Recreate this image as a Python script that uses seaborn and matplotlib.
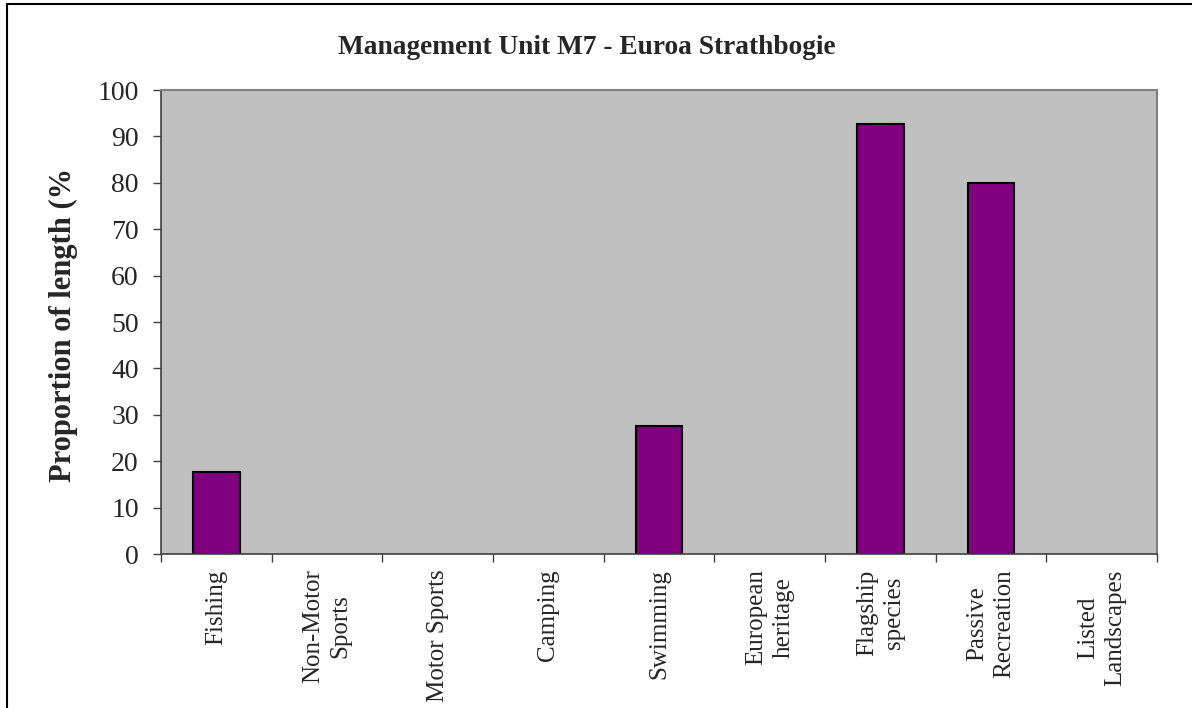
import numpy as np
import pandas as pd
import matplotlib
matplotlib.use("Agg")
import matplotlib.pyplot as plt
import seaborn as sns
from matplotlib.lines import Line2D

# ── data ────────────────────────────────────────────────────────────────────
categories = [
    "Fishing", "Non-Motor\nSports", "Motor Sports", "Camping", "Swimming",
    "European\nheritage", "Flagship\nspecies", "Passive\nRecreation",
    "Listed\nLandscapes",
]
values = [17.6, 0, 0, 0, 27.6, 0, 92.7, 80.0, 0]
yticks = list(range(0, 101, 10))

title = "Management Unit M7 - Euroa Strathbogie"
ylabel = "Proportion of length (%"

df = pd.DataFrame({"category": categories, "value": values})

sns.set_theme(style="white")
plt.rcParams["font.family"] = ["Liberation Serif", "DejaVu Serif"]

fig = plt.figure(figsize=(11.92, 7.08), dpi=100)
W, H = 1192, 708
ax = fig.add_axes([161 / W, 1 - 554 / H, (1157 - 161) / W, (554 - 90) / H])
ax.set_facecolor("#C0C0C0")

sns.barplot(data=df, x="category", y="value", color="#800080",
            saturation=1, width=0.42, edgecolor="black", linewidth=1.5, ax=ax)
# empty categories show no outline
for bar in ax.patches:
    if bar.get_height() == 0:
        bar.set_linewidth(0)

ax.set_xlim(-0.5, len(categories) - 0.5)
ax.set_ylim(0, 100)
ax.set_yticks(yticks)
ax.set_yticklabels([str(t) for t in yticks], fontsize=20)
ax.tick_params(axis="y", direction="out", length=6, width=1, color="#404040",
               pad=10, left=True)

# category labels at centres, tick marks at boundaries
ax.set_xticks(range(len(categories)))
ax.set_xticklabels(categories, rotation=90, fontsize=18, va="top",
                   ha="center", multialignment="center", linespacing=1.3)
ax.tick_params(axis="x", which="major", length=0, pad=11)
ax.set_xticks(np.arange(-0.5, len(categories), 1), minor=True)
ax.tick_params(axis="x", which="minor", direction="out", length=6, width=1,
               color="#404040", bottom=True)
ax.set_xlabel("")
ax.set_ylabel("")

for side in ["left", "bottom"]:
    ax.spines[side].set_color("#404040")
    ax.spines[side].set_linewidth(1.2)
for side in ["top", "right"]:
    ax.spines[side].set_visible(True)
    ax.spines[side].set_color("#808080")
    ax.spines[side].set_linewidth(1.5)

fig.text(587 / W, 1 - 48 / H, title, fontsize=19.7, fontweight="bold",
         ha="center", va="center")
fig.text(63 / W, 1 - 325 / H, ylabel, fontsize=22, fontweight="bold",
         rotation=90, ha="center", va="center")

# outer chart border: only the left and top edges fall inside the image
x0, y0 = 7 / W, 1 - 4 / H
fig.lines.append(Line2D([x0, x0], [0, y0], transform=fig.transFigure,
                        color="black", linewidth=1.5))
fig.lines.append(Line2D([x0, 1], [y0, y0], transform=fig.transFigure,
                        color="black", linewidth=1.5))

fig.savefig("out.png", dpi=100)
